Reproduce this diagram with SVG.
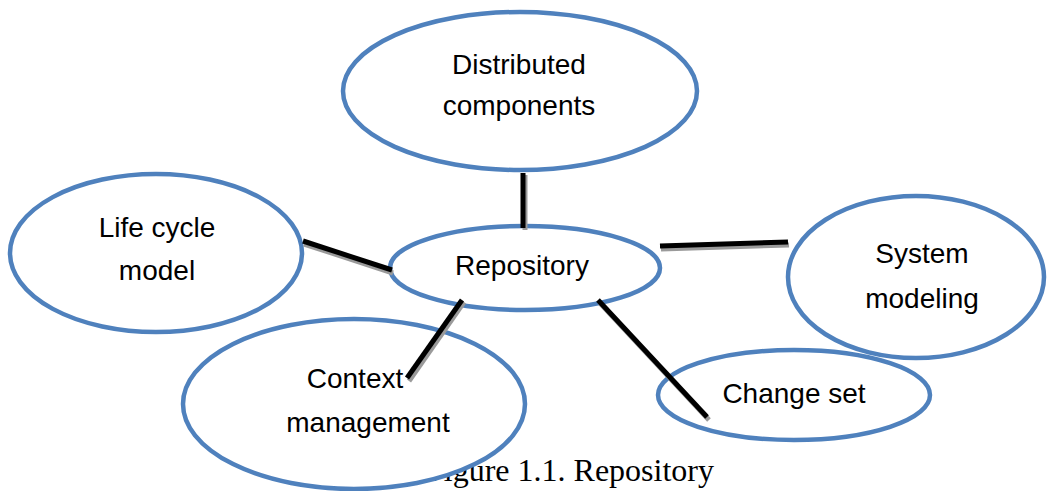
<svg xmlns="http://www.w3.org/2000/svg" width="1047" height="491" viewBox="0 0 1047 491">
<style>
.node ellipse{fill:#fff;stroke:#4F81BD;stroke-width:4.5}
.node text{font-family:"Liberation Sans",Arial,sans-serif;font-size:28px;fill:#000;text-anchor:middle}
.sh{stroke:#9a9a9a;stroke-width:5;fill:none}
.ln{stroke:#000;stroke-width:5;fill:none}
.cap{font-family:"Liberation Serif","Times New Roman",serif;font-size:32px;fill:#000}
</style>
<rect width="1047" height="491" fill="#fff"/>
<text class="cap" x="714" y="481" text-anchor="end">Figure 1.1. Repository</text>
<g id="n-distributed" class="node">
<ellipse cx="520" cy="91" rx="177" ry="79"/>
<text x="519" y="74">Distributed</text>
<text x="519" y="115">components</text>
</g>
<g id="n-lifecycle" class="node">
<ellipse cx="156" cy="253" rx="146" ry="79"/>
<text x="157" y="237">Life cycle</text>
<text x="157" y="280">model</text>
</g>
<g id="n-system" class="node">
<ellipse cx="916" cy="277" rx="128" ry="81"/>
<text x="922" y="263">System</text>
<text x="922" y="308">modeling</text>
</g>
<g id="n-repository" class="node">
<ellipse cx="525" cy="268" rx="135" ry="42"/>
<text x="522" y="275">Repository</text>
</g>
<g id="n-context" class="node">
<ellipse cx="354" cy="404" rx="171" ry="85"/>
<text x="355" y="388">Context</text>
<text x="368" y="432">management</text>
</g>
<g id="n-changeset" class="node">
<ellipse cx="794" cy="395" rx="136" ry="45"/>
<text x="794" y="403">Change set</text>
</g>
<g id="connectors">
<line class="sh" x1="525" y1="175" x2="525" y2="230"/>
<line class="sh" x1="304" y1="244" x2="393" y2="273"/>
<line class="sh" x1="661" y1="249" x2="789" y2="245"/>
<line class="sh" x1="464" y1="302" x2="409" y2="381"/>
<line class="sh" x1="600" y1="303" x2="709" y2="420"/>
<line class="ln" x1="523" y1="173" x2="523" y2="228"/>
<line class="ln" x1="303" y1="241" x2="392" y2="270"/>
<line class="ln" x1="660" y1="246" x2="788" y2="242"/>
<line class="ln" x1="462" y1="300" x2="407" y2="378"/>
<line class="ln" x1="598" y1="300" x2="707" y2="417"/>
</g>
</svg>
